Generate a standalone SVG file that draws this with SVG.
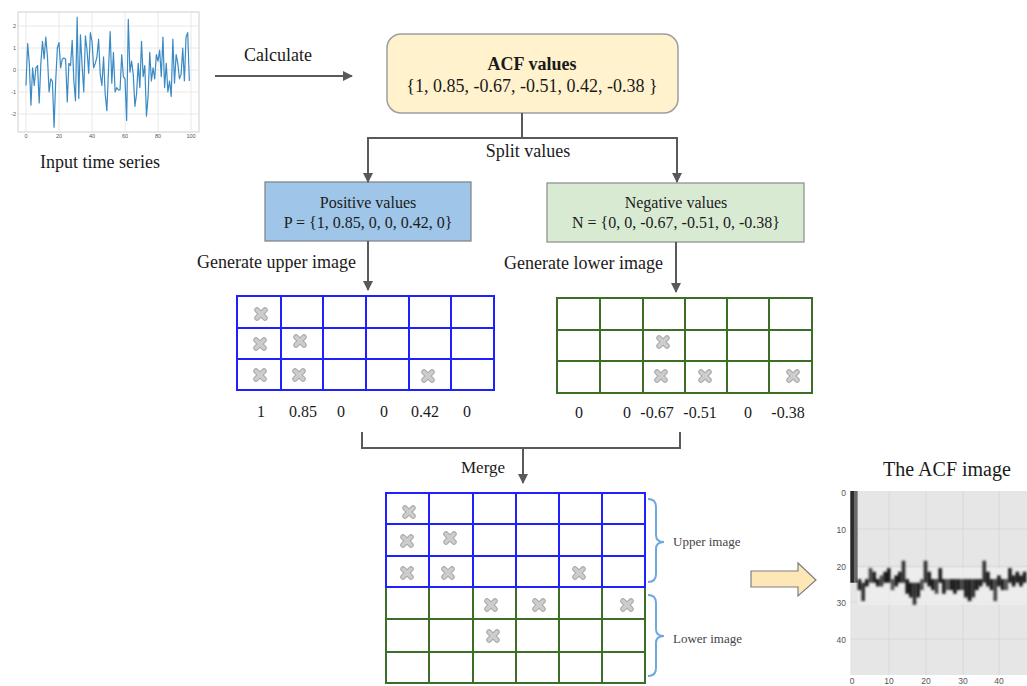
<svg xmlns="http://www.w3.org/2000/svg" xmlns:xlink="http://www.w3.org/1999/xlink" width="1027" height="686" viewBox="0 0 1027 686">
<style>
  .t { font-family: "Liberation Serif", "Times New Roman", serif; fill: #1a1a1a; }
  .conn { stroke: #595959; stroke-width: 2; fill: none; }
  .gb { stroke: #1f1fff; stroke-width: 2; fill: none; }
  .gg { stroke: #3c6e28; stroke-width: 2; fill: none; }
  .brace { stroke: #6fa8dc; stroke-width: 2; fill: none; }
  .tick { font-family: "Liberation Sans", Arial, sans-serif; fill: #555; }
  .grid { stroke: #e2e2e2; stroke-width: 0.8; }
</style>
<defs>
  <marker id="ah" viewBox="0 0 10 10" refX="9" refY="5" markerWidth="5" markerHeight="5" orient="auto" markerUnits="strokeWidth">
    <path d="M0,0 L10,5 L0,10 Z" fill="#595959"/>
  </marker>
  <g id="xm">
    <path d="M-4,-4 L4,4 M4,-4 L-4,4" stroke="#a8a8a8" stroke-width="5.5" stroke-linecap="round"/>
    <path d="M-4,-4 L4,4 M4,-4 L-4,4" stroke="#cdcdcd" stroke-width="3.5" stroke-linecap="round"/>
  </g>
  <filter id="soft" x="-10%" y="-10%" width="120%" height="120%">
    <feGaussianBlur stdDeviation="0.25"/>
  </filter>
</defs>
<rect width="1027" height="686" fill="#ffffff"/>

<g id="input-series">
  <rect x="18" y="12" width="181" height="120" fill="#fff" stroke="#cfcfcf" stroke-width="1"/>
  <g class="grid">
    <line x1="26" y1="12" x2="26" y2="132"/><line x1="59" y1="12" x2="59" y2="132"/><line x1="92" y1="12" x2="92" y2="132"/>
    <line x1="125" y1="12" x2="125" y2="132"/><line x1="158" y1="12" x2="158" y2="132"/><line x1="191" y1="12" x2="191" y2="132"/>
    <line x1="18" y1="26" x2="199" y2="26"/><line x1="18" y1="48" x2="199" y2="48"/><line x1="18" y1="70" x2="199" y2="70"/>
    <line x1="18" y1="92" x2="199" y2="92"/><line x1="18" y1="114" x2="199" y2="114"/>
  </g>
  <polyline fill="none" stroke="#3a8ac4" stroke-width="1.2" stroke-linejoin="round" points="26,85.4 27.65,43.6 29.3,63.4 30.95,105.2 32.6,67.8 34.25,85.4 35.9,67.8 37.55,65.6 39.2,103 40.85,63.4 42.5,41.4 44.15,59 45.8,37 47.45,56.8 49.1,92 50.75,78.8 52.4,81 54.05,127.2 55.7,81 57.35,48 59,42.5 60.65,67.8 62.3,59 63.95,57.9 65.6,59 67.25,101.9 68.9,63.4 70.55,65.6 72.2,40.3 73.85,81 75.5,100.8 77.15,17.2 78.8,98.6 80.45,34.8 82.1,65.6 83.75,92 85.4,35.9 87.05,50.2 88.7,73.3 90.35,32.6 92,41.4 93.65,67.8 95.3,63.4 96.95,56.8 98.6,39.2 100.25,74.4 101.9,85.4 103.55,56.8 105.2,94.2 106.85,110.7 108.5,70 110.15,31.5 111.8,83.2 113.45,52.4 115.1,92 116.75,87.6 118.4,89.8 120.05,89.8 121.7,54.6 123.35,76.6 125,78.8 126.65,120.6 128.3,19.4 129.95,72.2 131.6,61.2 133.25,74.4 134.9,106.3 136.55,94.2 138.2,63.4 139.85,87.6 141.5,41.4 143.15,76.6 144.8,65.6 146.45,116.2 148.1,96.4 149.75,52.4 151.4,81 153.05,67.8 154.7,78.8 156.35,54.6 158,61.2 159.65,50.2 161.3,76.6 162.95,37 164.6,87.6 166.25,63.4 167.9,92 169.55,81 171.2,96.4 172.85,39.2 174.5,83.2 176.15,54.6 177.8,63.4 179.45,78.8 181.1,74.4 182.75,48 184.4,81 186.05,37 187.7,32.6 189.35,81"/>
  <g class="tick" font-size="5.5" text-anchor="end">
    <text x="16" y="28">2</text><text x="16" y="50">1</text><text x="16" y="72">0</text><text x="16" y="94">-1</text><text x="16" y="116">-2</text>
  </g>
  <g class="tick" font-size="5.5" text-anchor="middle">
    <text x="26" y="138">0</text><text x="59" y="138">20</text><text x="92" y="138">40</text><text x="125" y="138">60</text><text x="158" y="138">80</text><text x="191" y="138">100</text>
  </g>
  <text class="t" x="100" y="168" font-size="18" text-anchor="middle">Input time series</text>
</g>

<g id="acf-values">
  <rect x="387" y="34" width="291" height="79" rx="14" fill="#fff2cc" stroke="#9e9e9e" stroke-width="1.5"/>
  <text class="t" x="532" y="70" font-size="18" font-weight="bold" text-anchor="middle">ACF values</text>
  <text class="t" x="532" y="92" font-size="18" text-anchor="middle">{1, 0.85, -0.67, -0.51, 0.42, -0.38 }</text>
</g>

<g id="positive">
  <rect x="265" y="182" width="206" height="59" fill="#9fc5e8" stroke="#7f7f7f" stroke-width="1.2"/>
  <text class="t" x="368" y="208" font-size="16" text-anchor="middle">Positive values</text>
  <text class="t" x="368" y="228" font-size="16" text-anchor="middle">P = {1, 0.85, 0, 0, 0.42, 0}</text>
</g>

<g id="negative">
  <rect x="547" y="183" width="257" height="59" fill="#d9ead3" stroke="#8a8a8a" stroke-width="1.2"/>
  <text class="t" x="676" y="208" font-size="16" text-anchor="middle">Negative values</text>
  <text class="t" x="676" y="228" font-size="16" text-anchor="middle">N = {0, 0, -0.67, -0.51, 0, -0.38}</text>
</g>

<g id="upper-grid">
  <rect x="237" y="296" width="257" height="94" class="gb"/>
  <path class="gb" d="M281,296V390M323,296V390M366,296V390M409,296V390M451,296V390M237,328H494M237,359H494"/>
  <use xlink:href="#xm" x="261" y="314"/>
  <use xlink:href="#xm" x="260" y="344"/><use xlink:href="#xm" x="300" y="341"/>
  <use xlink:href="#xm" x="260" y="375"/><use xlink:href="#xm" x="299" y="375"/><use xlink:href="#xm" x="428" y="376"/>
  <g class="t" font-size="16" text-anchor="middle">
    <text x="261" y="417">1</text><text x="303" y="417">0.85</text><text x="341" y="417">0</text><text x="384" y="417">0</text><text x="425" y="417">0.42</text><text x="467" y="417">0</text>
  </g>
</g>

<g id="lower-grid">
  <rect x="557" y="298" width="255" height="95" class="gg"/>
  <path class="gg" d="M600,298V393M643,298V393M685,298V393M727,298V393M769,298V393M557,330H812M557,361H812"/>
  <use xlink:href="#xm" x="663" y="342"/>
  <use xlink:href="#xm" x="661" y="376"/><use xlink:href="#xm" x="705" y="376"/><use xlink:href="#xm" x="793" y="376"/>
  <g class="t" font-size="16" text-anchor="middle">
    <text x="579" y="418">0</text><text x="627" y="418">0</text><text x="657" y="418">-0.67</text><text x="700" y="418">-0.51</text><text x="748" y="418">0</text><text x="788" y="418">-0.38</text>
  </g>
</g>

<g id="merged-grid">
  <path class="gg" d="M386,587V683H645V587M429,587V683M473,587V683M516,587V683M559,587V683M602,587V683M386,619H645M386,652H645"/>
  <rect x="386" y="493" width="259" height="94" class="gb"/>
  <path class="gb" d="M429,493V587M473,493V587M516,493V587M559,493V587M602,493V587M386,524H645M386,556H645"/>
  <use xlink:href="#xm" x="409" y="512"/>
  <use xlink:href="#xm" x="407" y="541"/><use xlink:href="#xm" x="450" y="538"/>
  <use xlink:href="#xm" x="407" y="573"/><use xlink:href="#xm" x="448" y="573"/><use xlink:href="#xm" x="579" y="573"/>
  <use xlink:href="#xm" x="491" y="605"/><use xlink:href="#xm" x="539" y="605"/><use xlink:href="#xm" x="627" y="605"/>
  <use xlink:href="#xm" x="493" y="636"/>
  <path class="brace" d="M648,499 Q656,499 656,507 L656,535 Q656,542 664,542 Q656,542 656,549 L656,574 Q656,582 648,582"/>
  <path class="brace" d="M648,595 Q656,595 656,603 L656,629 Q656,636 664,636 Q656,636 656,643 L656,668 Q656,676 648,676"/>
  <text class="t" x="673" y="546" font-size="13" style="fill:#444">Upper image</text>
  <text class="t" x="673" y="643" font-size="13" style="fill:#444">Lower image</text>
</g>

<g id="block-arrow">
  <path d="M751,571 L798,571 L798,563 L816,580 L798,596 L798,587 L751,587 Z" fill="#fde7b6" stroke="#7f7f7f" stroke-width="1.2"/>
</g>

<g id="acf-image">
  <text class="t" x="947" y="476" font-size="20" text-anchor="middle">The ACF image</text>
  <rect x="850.3" y="491" width="177" height="184" fill="#e6e6e6"/>
  <g stroke="#d6d6d6" stroke-width="0.8">
    <line x1="889" y1="491" x2="889" y2="675"/><line x1="926" y1="491" x2="926" y2="675"/><line x1="963" y1="491" x2="963" y2="675"/><line x1="999" y1="491" x2="999" y2="675"/>
    <line x1="850" y1="529" x2="1027" y2="529"/><line x1="850" y1="566" x2="1027" y2="566"/><line x1="850" y1="602" x2="1027" y2="602"/><line x1="850" y1="639" x2="1027" y2="639"/>
  </g>
  <g transform="translate(850.3,491) scale(3.67)">
    <rect x="2" y="21" width="46" height="10" fill="#efefef" opacity="0.7"/>
    <rect x="0" y="0" width="1" height="25" fill="#2a2a2a"/>
    <rect x="1" y="0" width="1" height="25" fill="#6a6a6a"/>
    <g fill="#1e1e1e" filter="url(#soft)">
      <rect x="2" y="24" width="1" height="3"/><rect x="3" y="25" width="1" height="5" fill="#333"/><rect x="4" y="24" width="1" height="2"/>
      <rect x="5" y="21" width="1" height="4" fill="#444"/><rect x="6" y="22" width="1" height="3"/><rect x="7" y="24" width="1" height="2"/>
      <rect x="8" y="23" width="1" height="3" fill="#444"/><rect x="9" y="22" width="1" height="3"/><rect x="10" y="21" width="1" height="4"/>
      <rect x="11" y="24" width="1" height="3" fill="#555"/><rect x="12" y="23" width="1" height="3"/><rect x="13" y="22" width="1" height="3"/>
      <rect x="14" y="19" width="1" height="6" fill="#333"/><rect x="15" y="24" width="1" height="4"/><rect x="16" y="25" width="1" height="4"/>
      <rect x="17" y="25" width="1" height="6" fill="#333"/><rect x="18" y="25" width="1" height="4"/><rect x="19" y="24" width="1" height="3" fill="#555"/>
      <rect x="20" y="19" width="1" height="6" fill="#333"/><rect x="21" y="22" width="1" height="4"/><rect x="22" y="24" width="1" height="3"/>
      <rect x="23" y="24" width="1" height="4" fill="#444"/><rect x="24" y="21" width="1" height="4"/><rect x="25" y="24" width="1" height="4"/>
      <rect x="26" y="24" width="1" height="3" fill="#555"/><rect x="27" y="24" width="1" height="3"/><rect x="28" y="24" width="1" height="4"/>
      <rect x="29" y="24" width="1" height="3"/><rect x="30" y="24" width="1" height="3" fill="#444"/><rect x="31" y="24" width="1" height="5"/>
      <rect x="32" y="24" width="1" height="6"/><rect x="33" y="24" width="1" height="5" fill="#333"/><rect x="34" y="24" width="1" height="3"/>
      <rect x="35" y="24" width="1" height="2"/><rect x="36" y="19" width="1" height="6" fill="#333"/><rect x="37" y="22" width="1" height="4"/>
      <rect x="38" y="24" width="1" height="3"/><rect x="39" y="24" width="1" height="6" fill="#444"/><rect x="40" y="23" width="1" height="3"/>
      <rect x="41" y="24" width="1" height="3"/><rect x="42" y="24" width="1" height="3" fill="#555"/><rect x="43" y="21" width="1" height="4"/>
      <rect x="44" y="23" width="1" height="3"/><rect x="45" y="22" width="1" height="3"/><rect x="46" y="23" width="1" height="3"/><rect x="47" y="22" width="1" height="3"/>
    </g>
  </g>
  <g class="tick" font-size="8.5" text-anchor="end">
    <text x="846" y="496">0</text><text x="846" y="533">10</text><text x="846" y="570">20</text><text x="846" y="606">30</text><text x="846" y="643">40</text>
  </g>
  <g class="tick" font-size="8.5" text-anchor="middle">
    <text x="852" y="684">0</text><text x="889" y="684">10</text><text x="926" y="684">20</text><text x="963" y="684">30</text><text x="999" y="684">40</text>
  </g>
</g>

<g id="connectors">
  <line class="conn" x1="215" y1="76" x2="352" y2="76" marker-end="url(#ah)"/>
  <text class="t" x="278" y="61" font-size="18" text-anchor="middle">Calculate</text>
  <path class="conn" d="M522,113V138"/>
  <path class="conn" d="M368,138H677V182" marker-end="url(#ah)"/>
  <path class="conn" d="M677,138H368V182" marker-end="url(#ah)"/>
  <text class="t" x="528" y="157" font-size="18" text-anchor="middle">Split values</text>
  <line class="conn" x1="368" y1="241" x2="368" y2="290" marker-end="url(#ah)"/>
  <text class="t" x="356" y="268" font-size="18" text-anchor="end">Generate upper image</text>
  <line class="conn" x1="676" y1="242" x2="676" y2="292" marker-end="url(#ah)"/>
  <text class="t" x="663" y="269" font-size="18" text-anchor="end">Generate lower image</text>
  <path class="conn" d="M362,432V448H680V432"/>
  <line class="conn" x1="523" y1="448" x2="523" y2="483" marker-end="url(#ah)"/>
  <text class="t" x="483" y="473" font-size="17" text-anchor="middle">Merge</text>
</g>
</svg>
